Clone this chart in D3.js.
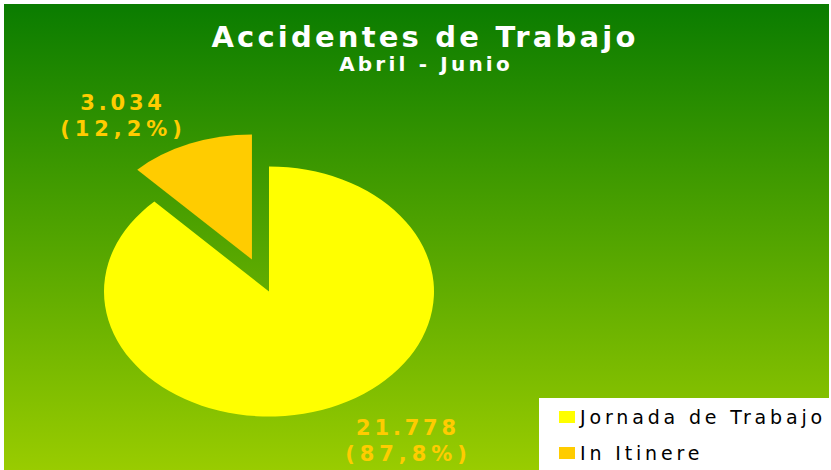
<!DOCTYPE html>
<html><head><meta charset="utf-8">
<script src="https://cdn.jsdelivr.net/npm/d3@7"></script>
<style>html,body{margin:0;padding:0;background:#fff;}svg{display:block;}</style>
</head><body>
<svg id="chart" width="831" height="470"></svg>
<script>
const categories = ["Jornada de Trabajo", "In Itinere"];
const values = [21778, 3034];
const valueLabels = ["21.778", "3.034"];
const percentLabels = ["(87,8%)", "(12,2%)"];
const colors = ["#ffff00", "#ffcc00"];
const explode = [0, 0.276];
const title = "Accidentes de Trabajo";
const subtitle = "Abril - Junio";

const svg = d3.select("#chart");
const font = "'DejaVu Sans', Verdana, sans-serif";

const defs = svg.append("defs");
const grad = defs.append("linearGradient").attr("id", "bg").attr("x1", 0).attr("y1", 0).attr("x2", 0).attr("y2", 1);
grad.append("stop").attr("offset", "0%").attr("stop-color", "#0a7c00");
grad.append("stop").attr("offset", "100%").attr("stop-color", "#99cc00");

svg.append("rect").attr("x", 4).attr("y", 4).attr("width", 825).attr("height", 466).attr("fill", "url(#bg)");

svg.append("text").attr("x", 425).attr("y", 47).attr("text-anchor", "middle")
  .attr("font-family", font).attr("font-weight", "bold").attr("font-size", 29)
  .attr("letter-spacing", 3.2).attr("fill", "#fff").text(title);
svg.append("text").attr("x", 426).attr("y", 71).attr("text-anchor", "middle")
  .attr("font-family", font).attr("font-weight", "bold").attr("font-size", 20)
  .attr("letter-spacing", 3.2).attr("fill", "#fff").text(subtitle);

// Pie (ellipse via scale)
const R = 100, cx = 269, cy = 291.5, sx = 1.65, sy = 1.25;
const pie = d3.pie().sort(null).value(d => d);
const arcs = pie(values);
const arc = d3.arc().innerRadius(0).outerRadius(R);
const g = svg.append("g").attr("transform", `translate(${cx},${cy}) scale(${sx},${sy})`);
g.selectAll("path").data(arcs).join("path")
  .attr("d", arc)
  .attr("fill", (d, i) => colors[i])
  .attr("transform", (d, i) => {
    const a = (d.startAngle + d.endAngle) / 2;
    const k = explode[i] * R;
    return `translate(${Math.sin(a) * k},${-Math.cos(a) * k})`;
  });

// data labels
const labelPos = [[408, 435], [123, 110]];
arcs.forEach((d, i) => {
  const t = svg.append("text").attr("text-anchor", "middle").attr("font-family", font)
    .attr("font-weight", "bold").attr("font-size", 21).attr("fill", "#ffcc00");
  t.append("tspan").attr("x", labelPos[i][0]).attr("y", labelPos[i][1])
    .attr("letter-spacing", 3.8).text(valueLabels[i]);
  t.append("tspan").attr("x", labelPos[i][0] + 0.5).attr("y", labelPos[i][1] + 26)
    .attr("letter-spacing", 4.9).text(percentLabels[i]);
});

// legend
svg.append("rect").attr("x", 539).attr("y", 398).attr("width", 292).attr("height", 72).attr("fill", "#fff");
const lg = svg.append("g").selectAll("g").data(categories).join("g")
  .attr("transform", (d, i) => `translate(559,${411 + i * 36})`);
lg.append("rect").attr("width", 16).attr("height", 12).attr("fill", (d, i) => colors[i]);
lg.append("text").attr("x", 21).attr("y", 13).attr("font-family", font).attr("font-size", 19)
  .attr("letter-spacing", 3.85).attr("fill", "#000").text(d => d);
</script>
</body></html>
